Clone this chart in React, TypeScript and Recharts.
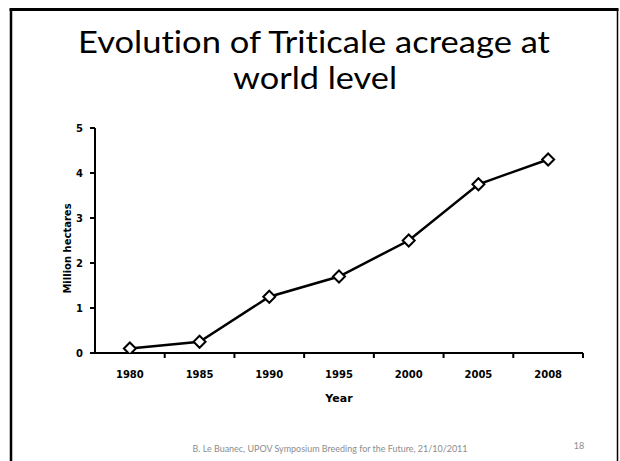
import { LineChart, Line, XAxis, YAxis } from "recharts";

const YEARS = ["1980", "1985", "1990", "1995", "2000", "2005", "2008"];
const AREA = [0.1, 0.25, 1.25, 1.7, 2.5, 3.75, 4.3];
const Y_TICKS = [0, 1, 2, 3, 4, 5];

const TITLE_LINES = ["Evolution of Triticale acreage at", "world level"];
const FOOTER = "B. Le Buanec, UPOV Symposium Breeding for the Future, 21/10/2011";
const PAGE_NO = "18";

const data = YEARS.map((year, i) => ({ year, value: AREA[i] }));

const W = 620;
const H = 461;
const AXIS_FONT = "'DejaVu Sans', Verdana, sans-serif";
const SLIDE_FONT = "Lato, 'Open Sans', sans-serif";
const NO_LIGA = { fontVariantLigatures: "none", fontFeatureSettings: "'liga' 0" } as any;

function YearTick(props: any) {
  const { x, y, payload, width, visibleTicksCount } = props;
  const half =
    payload && typeof payload.offset === "number" && payload.offset > 0
      ? payload.offset
      : width / visibleTicksCount / 2;
  return (
    <g>
      <line x1={x + half} y1={y} x2={x + half} y2={y + 5} stroke="#000" strokeWidth={2} />
      <text
        x={x}
        y={y + 25}
        textAnchor="middle"
        fontFamily={AXIS_FONT}
        fontWeight="bold"
        fontSize={10}
        fill="#000"
      >
        {payload.value}
      </text>
    </g>
  );
}

function YAxisTitle(props: any) {
  const vb = props.viewBox || {};
  const cx = vb.x + 12;
  const cy = vb.y + vb.height / 2 + 8;
  return (
    <text
      x={cx}
      y={cy}
      transform={`rotate(-90 ${cx} ${cy})`}
      textAnchor="middle"
      dominantBaseline="central"
      fontFamily={AXIS_FONT}
      fontWeight="bold"
      fontSize={10}
      fill="#000"
    >
      Million hectares
    </text>
  );
}

function XAxisTitle(props: any) {
  const vb = props.viewBox || {};
  return (
    <text
      x={vb.x + vb.width / 2}
      y={vb.y + 49}
      textAnchor="middle"
      fontFamily={AXIS_FONT}
      fontWeight="bold"
      fontSize={11}
      fill="#000"
    >
      Year
    </text>
  );
}

function Diamond(props: any) {
  const { cx, cy, index } = props;
  if (cx == null || cy == null) return <g key={`d-${index}`} />;
  const r = 6;
  return (
    <path
      key={`d-${index}`}
      d={`M${cx},${cy - r}L${cx + r},${cy}L${cx},${cy + r}L${cx - r},${cy}Z`}
      fill="#fff"
      stroke="#000"
      strokeWidth={2}
    />
  );
}

export default function App() {
  return (
    <div
      style={{
        position: "absolute",
        left: 0,
        top: 0,
        width: W,
        height: H,
        background: "#fff",
        overflow: "hidden",
      }}
    >
      <svg width={W} height={H} style={{ position: "absolute", left: 0, top: 0 }}>
        <line x1={9.5} y1={9.5} x2={618.5} y2={9.5} stroke="#000" strokeWidth={3} />
        <line x1={11} y1={9} x2={11} y2={H} stroke="#000" strokeWidth={2.5} />
        <line x1={617.5} y1={9} x2={617.5} y2={H} stroke="#000" strokeWidth={1.5} />
        <text
          x={314}
          y={53}
          textAnchor="middle"
          fontFamily={SLIDE_FONT}
          fontSize={30}
          fill="#000"
          style={NO_LIGA}
          textLength={472}
          lengthAdjust="spacingAndGlyphs"
        >
          {TITLE_LINES[0]}
        </text>
        <text
          x={315}
          y={89}
          textAnchor="middle"
          fontFamily={SLIDE_FONT}
          fontSize={30}
          fill="#000"
          style={NO_LIGA}
          textLength={164}
          lengthAdjust="spacingAndGlyphs"
        >
          {TITLE_LINES[1]}
        </text>
        <text
          x={330}
          y={452}
          textAnchor="middle"
          fontFamily={SLIDE_FONT}
          fontSize={10}
          fill="#8c8c8c"
          style={NO_LIGA}
          textLength={275}
          lengthAdjust="spacingAndGlyphs"
        >
          {FOOTER}
        </text>
        <text
          x={579}
          y={449}
          textAnchor="middle"
          fontFamily={SLIDE_FONT}
          fontSize={9}
          fill="#8c8c8c"
        >
          {PAGE_NO}
        </text>
      </svg>
      <div style={{ position: "absolute", left: 0, top: 0 }}>
        <LineChart
          width={W}
          height={H}
          data={data}
          margin={{ top: 128, right: 37, bottom: 58, left: 55 }}
        >
          <XAxis
            dataKey="year"
            scale="band"
            height={50}
            axisLine={{ stroke: "#000", strokeWidth: 2 }}
            tickLine={false}
            tickSize={0}
            tickMargin={0}
            tick={<YearTick />}
            interval={0}
            label={<XAxisTitle />}
          />
          <YAxis
            width={40}
            domain={[0, 5]}
            ticks={Y_TICKS}
            allowDataOverflow
            axisLine={{ stroke: "#000", strokeWidth: 2 }}
            tickLine={{ stroke: "#000", strokeWidth: 2 }}
            tickSize={5}
            tickMargin={7}
            tick={{
              fill: "#000",
              fontSize: 10,
              fontWeight: "bold",
              fontFamily: AXIS_FONT,
            }}
            label={<YAxisTitle />}
          />
          <Line
            type="linear"
            dataKey="value"
            stroke="#000"
            strokeWidth={2.5}
            dot={<Diamond />}
            activeDot={false}
            isAnimationActive={false}
          />
        </LineChart>
      </div>
    </div>
  );
}
